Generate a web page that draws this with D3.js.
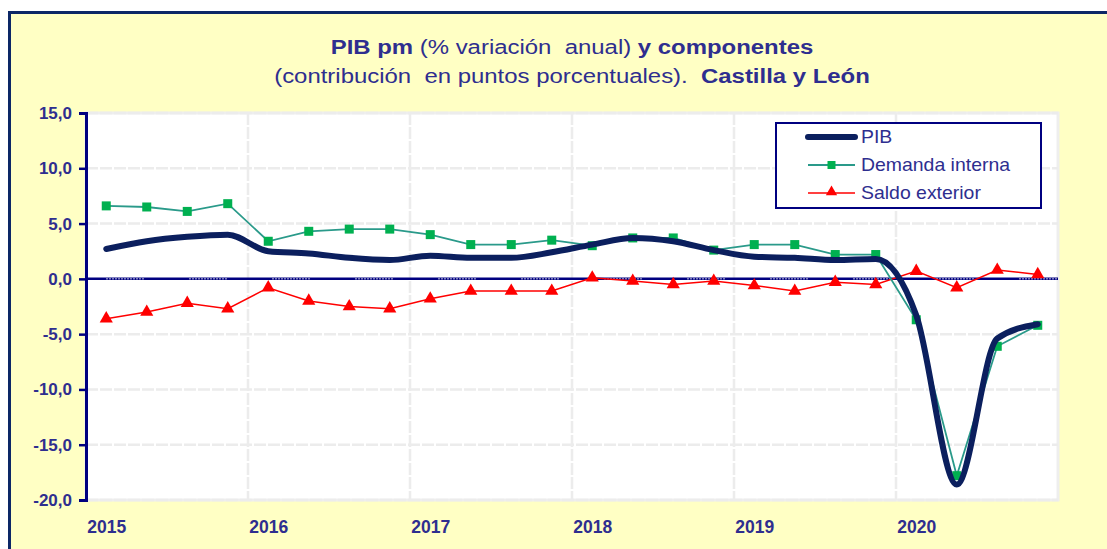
<!DOCTYPE html>
<html><head><meta charset="utf-8">
<script src="https://cdn.jsdelivr.net/npm/d3@7"></script>
<style>html,body{margin:0;padding:0;background:#fff;}svg{display:block;}</style>
</head><body>
<svg id="c" width="1107" height="549"></svg>
<script>
const quarters = ["2015T1","2015T2","2015T3","2015T4","2016T1","2016T2","2016T3","2016T4",
  "2017T1","2017T2","2017T3","2017T4","2018T1","2018T2","2018T3","2018T4",
  "2019T1","2019T2","2019T3","2019T4","2020T1","2020T2","2020T3","2020T4"];
const yearLabels = ["2015","2016","2017","2018","2019","2020"];
const pib = [2.7,3.4,3.8,4.0,2.5,2.3,1.9,1.7,2.1,1.9,1.9,2.4,3.1,3.7,3.4,2.6,2.0,1.9,1.7,1.8,-3.3,-18.6,-5.4,-4.1];
const demanda = [6.6,6.5,6.1,6.8,3.4,4.3,4.5,4.5,4.0,3.1,3.1,3.5,3.0,3.7,3.7,2.6,3.1,3.1,2.2,2.2,-3.7,-17.8,-6.1,-4.2];
const saldo = [-3.6,-3.0,-2.2,-2.7,-0.8,-2.0,-2.5,-2.7,-1.8,-1.1,-1.1,-1.1,0.1,-0.2,-0.5,-0.2,-0.6,-1.1,-0.3,-0.5,0.7,-0.8,0.8,0.4];
const yTicks = [-20,-15,-10,-5,0,5,10,15];
const seriesNames = ["PIB","Demanda interna","Saldo exterior"];

const svg = d3.select("#c");
const txtCol = "#2e2e8f";
const navy = "#000080";
const font = "Liberation Sans, Arial, sans-serif";

// frame
svg.append("rect").attr("x",9.5).attr("y",12.5).attr("width",1120).attr("height",560)
  .attr("fill","#ffffc4").attr("stroke","#0c2766").attr("stroke-width",3);

const L=86, R=1058, T=113, B=500;
const x = d3.scalePoint().domain(quarters).range([L,R]).padding(0.5);
const y = d3.scaleLinear().domain([-20,15]).range([B,T]);
const step = x.step();

// plot area
svg.append("rect").attr("x",L).attr("y",T).attr("width",R-L).attr("height",B-T)
  .attr("fill","#fff").attr("stroke","#eeeeee").attr("stroke-width",3);

// gridlines
const g = svg.append("g");
g.selectAll(".hg").data(yTicks.filter(v=>v!==0)).join("line")
  .attr("x1",L).attr("x2",R).attr("y1",d=>y(d)).attr("y2",d=>y(d))
  .attr("stroke","#ececec").attr("stroke-width",2.5).attr("stroke-dasharray","12,2");
g.selectAll(".vg").data(yearLabels.slice(1)).join("line")
  .attr("x1",(d,i)=>x(quarters[(i+1)*4])-step/2).attr("x2",(d,i)=>x(quarters[(i+1)*4])-step/2)
  .attr("y1",T).attr("y2",B)
  .attr("stroke","#ececec").attr("stroke-width",2.5).attr("stroke-dasharray","12,2");

// zero line
svg.append("line").attr("x1",L).attr("x2",R).attr("y1",y(0)).attr("y2",y(0))
  .attr("stroke",navy).attr("stroke-width",2.5);
let dash=[]; for(let k=0;k<13;k++){dash.push(1.5,1.5);} dash[dash.length-1]=1.5+44;
svg.append("line").attr("x1",x(quarters[0])).attr("x2",R).attr("y1",y(0)).attr("y2",y(0))
  .attr("stroke","#fff").attr("stroke-width",1).attr("stroke-dasharray",dash.join(","));

// y axis
const ya = svg.append("g").attr("transform",`translate(${L},0)`)
  .call(d3.axisLeft(y).tickValues(yTicks).tickSize(7).tickPadding(7)
    .tickFormat(d=>d3.format(".1f")(d).replace(".",",").replace("−","-")));
ya.select(".domain").attr("stroke",navy).attr("stroke-width",3);
ya.selectAll(".tick line").attr("stroke",navy).attr("stroke-width",2.5);
ya.selectAll("text").attr("fill",txtCol).attr("font-family",font)
  .attr("font-size",17).attr("font-weight","bold");

// x axis labels
const xa = svg.append("g").attr("transform",`translate(0,${B})`)
  .call(d3.axisBottom(x).tickValues(quarters.filter((q,i)=>i%4===0)).tickSize(0).tickPadding(21)
    .tickFormat((d,i)=>yearLabels[i]));
xa.select(".domain").remove();
xa.selectAll("text").attr("fill",txtCol).attr("font-family",font)
  .attr("font-size",17.5).attr("font-weight","bold");

// series
const ln = d3.line().x((d,i)=>x(quarters[i])).y(d=>y(d));
svg.append("path").datum(saldo).attr("d",ln).attr("fill","none").attr("stroke","#ff0000").attr("stroke-width",1.5);
svg.append("path").datum(demanda).attr("d",ln).attr("fill","none").attr("stroke","#2a9a8a").attr("stroke-width",1.8);
const tri = d3.symbol().type(d3.symbolTriangle).size(75);
svg.selectAll(".tri").data(saldo).join("path")
  .attr("transform",(d,i)=>`translate(${x(quarters[i])},${y(d)})`).attr("d",tri).attr("fill","#ff0000");
svg.selectAll(".sq").data(demanda).join("rect")
  .attr("x",(d,i)=>x(quarters[i])-4.5).attr("y",d=>y(d)-4.5).attr("width",9).attr("height",9).attr("fill","#00b050");
const lnS = d3.line().x((d,i)=>x(quarters[i])).y(d=>y(d)).curve(d3.curveMonotoneX);
svg.append("path").datum(pib).attr("d",lnS)
  .attr("fill","none").attr("stroke","#0b1f5e").attr("stroke-width",6).attr("stroke-linecap","round").attr("stroke-linejoin","round");

// legend
const lg = svg.append("g");
lg.append("rect").attr("x",776).attr("y",123).attr("width",265).attr("height",85)
  .attr("fill","#fff").attr("stroke",navy).attr("stroke-width",2);
const ly = [137,165,193];
seriesNames.forEach((n,i)=>{
  const row = lg.append("g");
  if(i===0){
    row.append("line").attr("x1",808).attr("x2",855).attr("y1",ly[i]).attr("y2",ly[i])
      .attr("stroke","#0b1f5e").attr("stroke-width",6).attr("stroke-linecap","round");
  } else if(i===1){
    row.append("line").attr("x1",808).attr("x2",855).attr("y1",ly[i]).attr("y2",ly[i])
      .attr("stroke","#2a9a8a").attr("stroke-width",1.8);
    row.append("rect").attr("x",831.5-4).attr("y",ly[i]-4).attr("width",8).attr("height",8).attr("fill","#00b050");
  } else {
    row.append("line").attr("x1",808).attr("x2",855).attr("y1",ly[i]).attr("y2",ly[i])
      .attr("stroke","#ff0000").attr("stroke-width",1.5);
    row.append("path").attr("transform",`translate(831.5,${ly[i]-1})`).attr("d",d3.symbol().type(d3.symbolTriangle).size(55)()).attr("fill","#ff0000");
  }
  row.append("text").attr("transform",`translate(861,${ly[i]}) scale(1.08,1)`).attr("dy","0.35em").text(n)
    .attr("fill",txtCol).attr("font-family",font).attr("font-size",18);
});

// title
const t = svg.append("text").attr("transform","translate(572,54) scale(1.14,1)").attr("text-anchor","middle")
  .attr("fill",txtCol).attr("font-family",font).attr("font-size",21).attr("xml:space","preserve");
t.append("tspan").attr("font-weight","bold").text("PIB pm ");
t.append("tspan").text("(% variación  anual) ");
t.append("tspan").attr("font-weight","bold").text("y componentes");
const t2 = svg.append("text").attr("transform","translate(572,83) scale(1.14,1)").attr("text-anchor","middle")
  .attr("fill",txtCol).attr("font-family",font).attr("font-size",21).attr("xml:space","preserve");
t2.append("tspan").text("(contribución  en puntos porcentuales).  ");
t2.append("tspan").attr("font-weight","bold").text("Castilla y León");
</script>
</body></html>
